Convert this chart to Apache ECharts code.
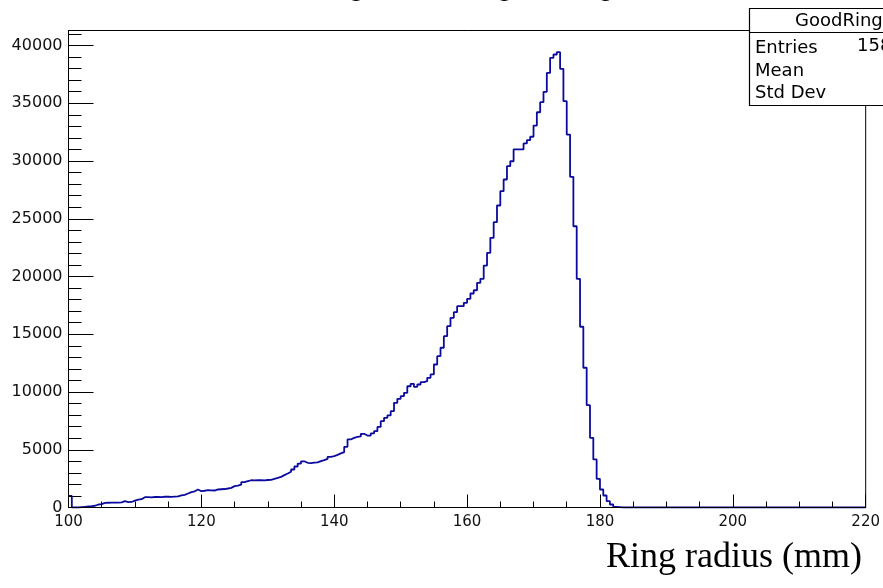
<!DOCTYPE html>
<html>
<head>
<meta charset="utf-8">
<script src="https://cdn.jsdelivr.net/npm/echarts@6/dist/echarts.min.js"></script>
<style>
html,body{margin:0;padding:0;background:#fff;}
#chart{width:883px;height:588px;}
</style>
</head>
<body>
<div id="chart"></div>
<script>
// Histogram: 240 bins of 0.5 mm from 100 to 220 mm
const binStart = 100;
const binWidth = 0.5;
const counts = [
  1000, 0, 0, 30, 60, 90, 115, 150, 260, 300,            // 100.0 - 104.5
  400, 410, 420, 430, 420, 450, 550, 470, 480, 600,      // 105.0 - 109.5
  690, 720, 890, 900, 880, 910, 920, 900, 930, 940,      // 110.0 - 114.5
  920, 950, 960, 1040, 1100, 1210, 1330, 1400, 1560, 1410, // 115.0 - 119.5
  1450, 1500, 1480, 1470, 1560, 1580, 1600, 1645, 1700, 1850, // 120.0 - 124.5
  1900, 1990, 2190, 2280, 2360, 2350, 2360, 2370, 2350, 2380, // 125.0 - 129.5
  2400, 2480, 2560, 2650, 2800, 2940, 3100, 3290, 3550, 3800, // 130.0 - 134.5
  4000, 3870, 3850, 3880, 3900, 4010, 4100, 4210, 4390, 4450, // 135.0 - 139.5
  4560, 4680, 4790, 5250, 5890, 6030, 6120, 6150, 6380, 6230, // 140.0 - 144.5
  6230, 6410, 6610, 6980, 7470, 7760, 7970, 8340, 9060, 9410, // 145.0 - 149.5
  9640, 9930, 10500, 10710, 10450, 10650, 10850, 10940, 11230, 11520, // 150.0 - 154.5
  12380, 13100, 13830, 14830, 15700, 16420, 16910, 17430, 17430, 17720, // 155.0 - 159.5
  18070, 18530, 18810, 19450, 19800, 20950, 22050, 23350, 24700, 26150, // 160.0 - 164.5
  27390, 28400, 29550, 29980, 31000, 31000, 31000, 31520, 31800, 32100, // 165.0 - 169.5
  33070, 34220, 35090, 35990, 37630, 38930, 39220, 39420, 37980, 35180, // 170.0 - 174.5
  32290, 28630, 24350, 19800, 15650, 12100, 8860, 6030, 4160, 2480,     // 175.0 - 179.5
  1560, 1040, 550, 260, 60, 30, 0, 0, 0, 0,              // 180.0 - 184.5
  0, 0, 0, 0, 0, 0, 0, 0, 0, 0,                          // 185.0 - 189.5
  0, 0, 0, 0, 0, 0, 0, 0, 0, 0,                          // 190.0 - 194.5
  0, 0, 0, 0, 0, 0, 0, 0, 0, 0,                          // 195.0 - 199.5
  0, 0, 0, 0, 0, 0, 0, 0, 0, 0,                          // 200.0 - 204.5
  0, 0, 0, 0, 0, 0, 0, 0, 0, 0,                          // 205.0 - 209.5
  0, 0, 0, 0, 0, 0, 0, 0, 0, 0,                          // 210.0 - 214.5
  0, 0, 0, 0, 0, 0, 0, 0, 0, 0                           // 215.0 - 219.5
];

// Axes
const xMin = 100, xMax = 220, xMajorStep = 20, xMinorSplit = 4;
const yMin = 0, yMax = 41300, yMajorStep = 5000, yMinorStep = 1000;

// Texts
const titleText = 'Ring radius for good rings';
const xAxisTitle = 'Ring radius (mm)';
const statsName = 'GoodRing';
const statsLabels = ['Entries', 'Mean', 'Std Dev'];
const statsEntriesShown = '158';

const seriesData = counts.map((c, i) => [binStart + i * binWidth, c]);
seriesData.push([binStart + counts.length * binWidth, counts[counts.length - 1]]);

const chart = echarts.init(document.getElementById('chart'), null, {renderer: 'canvas'});

const tickFont = 'DejaVu Sans';

const option = {
  animation: false,
  backgroundColor: '#ffffff',
  grid: {
    left: 68.5, right: 13.5, top: 30.5, bottom: 80.5,
    show: true, borderColor: '#000', borderWidth: 1, backgroundColor: '#fff'
  },
  xAxis: [{
    type: 'value', min: xMin, max: xMax, interval: xMajorStep,
    z: 10,
    axisLine: {show: true, lineStyle: {color: '#000', width: 1}},
    axisTick: {show: true, inside: true, length: 13, lineStyle: {color: '#000', width: 1}},
    minorTick: {show: true, splitNumber: xMinorSplit, length: 6, lineStyle: {color: '#000', width: 1}},
    splitLine: {show: false},
    axisLabel: {color: '#111', fontFamily: tickFont, fontSize: 15, margin: 7, formatter: v => String(v)}
  }],
  yAxis: [{
    type: 'value', min: yMin, max: yMax, interval: yMajorStep,
    position: 'left', z: 10,
    axisLine: {show: true, lineStyle: {color: '#000', width: 1}},
    axisTick: {show: true, inside: true, length: 25, lineStyle: {color: '#000', width: 1}},
    splitLine: {show: false},
    axisLabel: {color: '#111', fontFamily: tickFont, fontSize: 16, margin: 6, showMaxLabel: false, formatter: v => String(v)}
  }, {
    type: 'value', min: yMin, max: yMax, interval: yMinorStep,
    position: 'left', offset: 0, z: 10,
    axisLine: {show: false},
    axisTick: {show: true, inside: true, length: 13, lineStyle: {color: '#000', width: 1}},
    splitLine: {show: false},
    axisLabel: {show: false}
  }],
  series: [{
    type: 'line',
    step: 'end',
    data: seriesData,
    xAxisIndex: 0,
    yAxisIndex: 0,
    showSymbol: false,
    symbol: 'none',
    lineStyle: {color: '#0a0a9e', width: 1.8},
    z: 1
  }],
  graphic: [
    {
      type: 'text', z: 100,
      style: {
        x: 468.5, y: -10, text: titleText,
        font: '24.5px "DejaVu Sans"', fill: '#000',
        textAlign: 'center', textVerticalAlign: 'middle'
      }
    },
    {
      type: 'text', z: 100,
      style: {
        x: 862, y: 558, text: xAxisTitle,
        font: '36px "Liberation Serif"', fill: '#000',
        textAlign: 'right', textVerticalAlign: 'middle'
      }
    },
    {
      type: 'rect', z: 100,
      shape: {x: 749.5, y: 8.5, width: 200, height: 97},
      style: {fill: '#fff', stroke: '#000', lineWidth: 1.2}
    },
    {
      type: 'line', z: 101,
      shape: {x1: 749.5, y1: 32.5, x2: 950, y2: 32.5},
      style: {stroke: '#000', lineWidth: 1.2}
    },
    {
      type: 'text', z: 102,
      style: {x: 795, y: 21, text: statsName, font: '18px "DejaVu Sans"', fill: '#000', textAlign: 'left', textVerticalAlign: 'middle'}
    },
    {
      type: 'text', z: 102,
      style: {x: 755, y: 48, text: statsLabels[0], font: '18px "DejaVu Sans"', fill: '#000', textAlign: 'left', textVerticalAlign: 'middle'}
    },
    {
      type: 'text', z: 102,
      style: {x: 857, y: 46, text: statsEntriesShown, font: '18px "DejaVu Sans"', fill: '#000', textAlign: 'left', textVerticalAlign: 'middle'}
    },
    {
      type: 'text', z: 102,
      style: {x: 755, y: 71, text: statsLabels[1], font: '18px "DejaVu Sans"', fill: '#000', textAlign: 'left', textVerticalAlign: 'middle'}
    },
    {
      type: 'text', z: 102,
      style: {x: 755, y: 93, text: statsLabels[2], font: '18px "DejaVu Sans"', fill: '#000', textAlign: 'left', textVerticalAlign: 'middle'}
    }
  ]
};
chart.setOption(option);
</script>
</body>
</html>
